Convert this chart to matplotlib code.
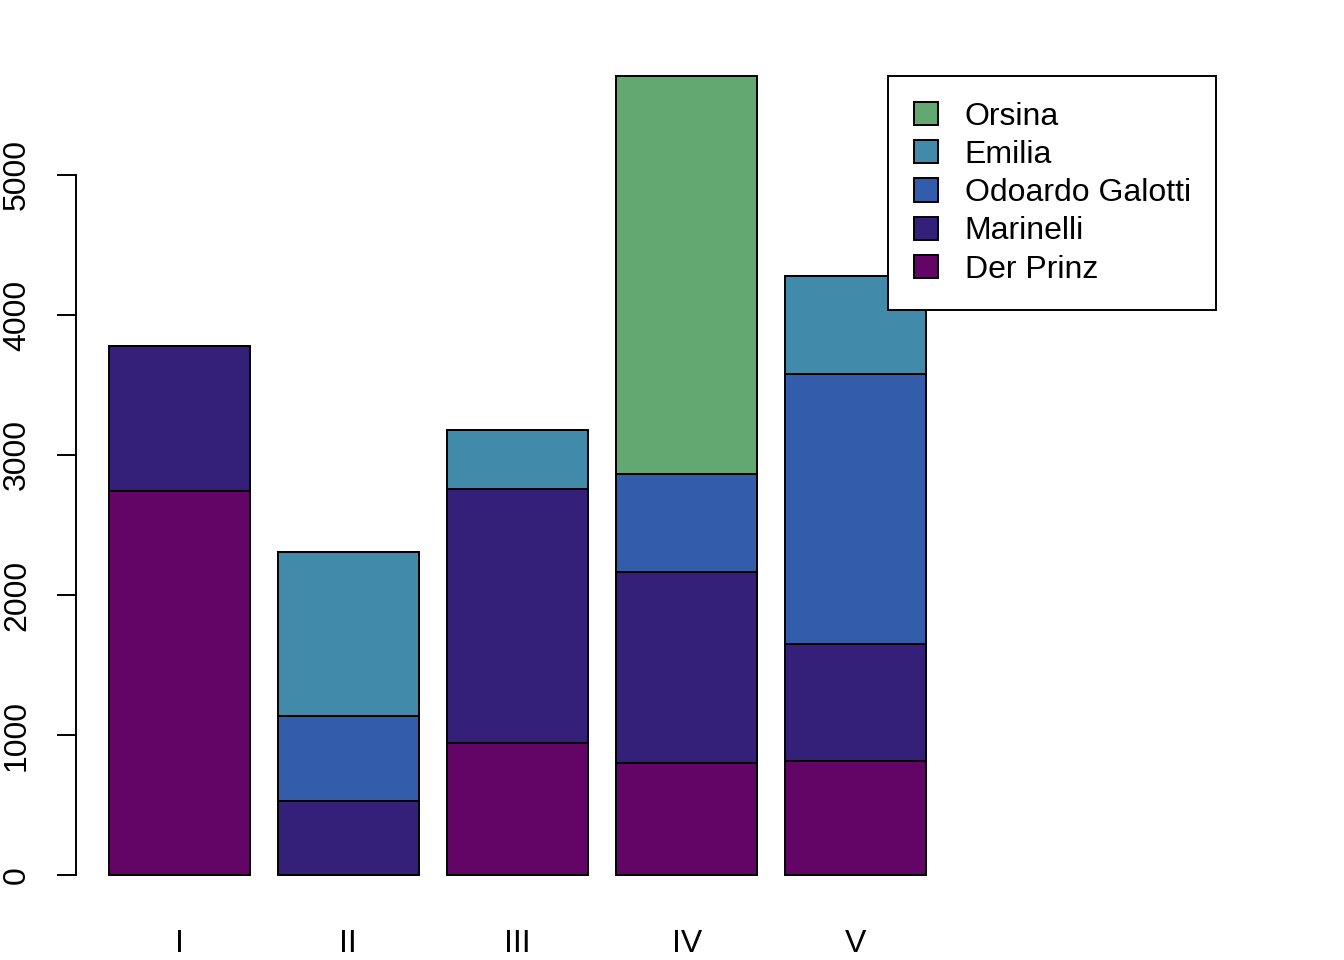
import numpy as np
import matplotlib
matplotlib.use('Agg')
import matplotlib.pyplot as plt

acts = ['I', 'II', 'III', 'IV', 'V']
# words spoken per act and character (stacked bottom -> top)
der_prinz = [2741, 0, 945, 802, 816]
marinelli = [1040, 528, 1814, 1360, 832]
odoardo = [0, 610, 0, 702, 1931]
emilia = [0, 1167, 420, 0, 700]
orsina = [0, 0, 0, 2843, 0]

names = ['Der Prinz', 'Marinelli', 'Odoardo Galotti', 'Emilia', 'Orsina']
series = [der_prinz, marinelli, odoardo, emilia, orsina]
colors = ['#620566', '#342078', '#335CAA', '#418AAA', '#62A870']

plt.rcParams['font.family'] = ['Liberation Sans', 'DejaVu Sans']

fig = plt.figure(figsize=(13.44, 9.6), dpi=100)
ax = fig.add_axes([76 / 1344, 1 - 907 / 960, (959 - 76) / 1344, (907 - 44) / 960])

# R barplot geometry: width 1, space 0.2
x = 0.2 + np.arange(len(acts)) * 1.2 + 0.5
bottom = np.zeros(len(acts))
handles = []
for vals, c, nm in zip(series, colors, names):
    vals = np.array(vals, dtype=float)
    b = ax.bar(x, vals, width=1.0, bottom=bottom, color=c,
               edgecolor='black', linewidth=1.4, label=nm)
    handles.append(b)
    bottom += vals

ax.set_xlim(-0.032, 6.232)
ax.set_ylim(-228.3, 5935.3)

for s in ['top', 'right', 'bottom']:
    ax.spines[s].set_visible(False)
ax.spines['left'].set_bounds(0, 5000)
ax.spines['left'].set_linewidth(1.4)

ax.set_yticks(np.arange(0, 5001, 1000))
ax.set_yticklabels([str(v) for v in range(0, 5001, 1000)], rotation=90, va='center')
ax.tick_params(axis='y', length=13.7, width=1.4, pad=18, labelsize=23)
ax.set_xticks(x)
ax.set_xticklabels(acts)
ax.tick_params(axis='x', length=0, pad=16, labelsize=23)

leg = fig.legend(handles[::-1], names[::-1], loc='upper left',
                 bbox_to_anchor=(888 / 1344, 1 - 76 / 960),
                 fontsize=23, frameon=True, fancybox=False, shadow=False,
                 borderpad=0.8, labelspacing=0.26, handlelength=0.75,
                 handleheight=0.75, handletextpad=0.85, borderaxespad=0)
leg.get_frame().set_edgecolor('black')
leg.get_frame().set_linewidth(1.4)
leg.get_frame().set_alpha(1)

fig.savefig('out.png', dpi=100)
